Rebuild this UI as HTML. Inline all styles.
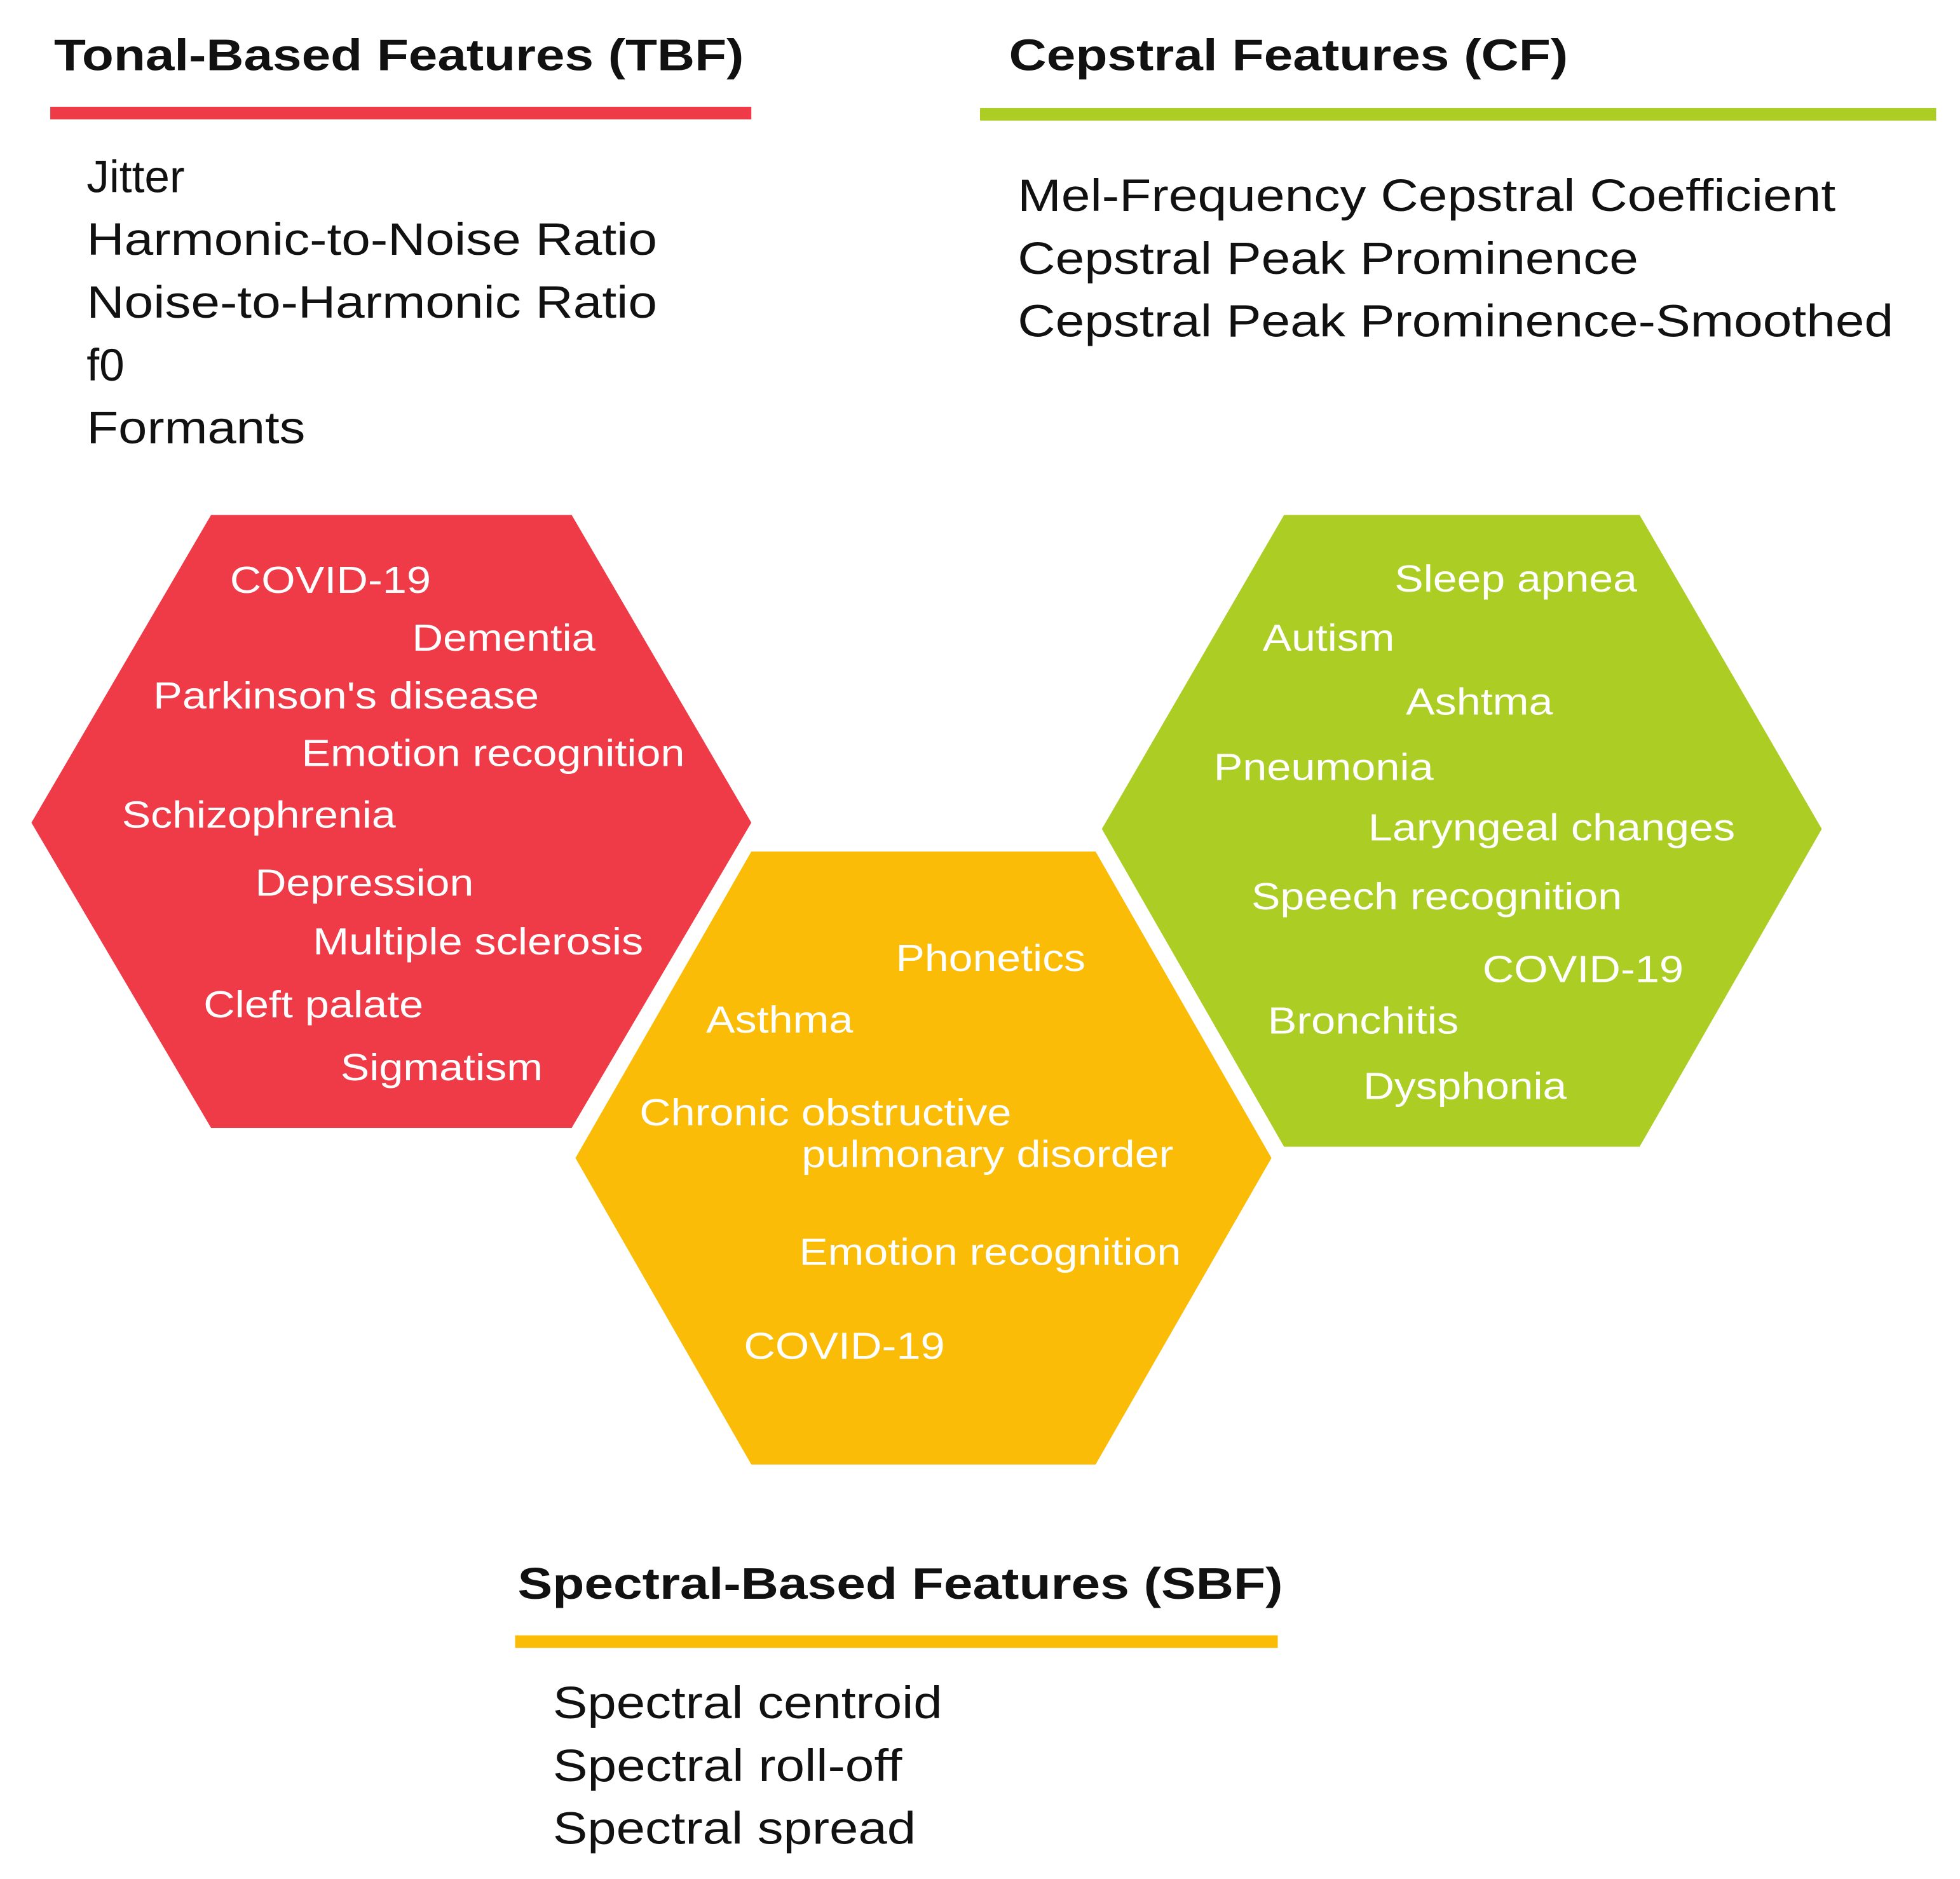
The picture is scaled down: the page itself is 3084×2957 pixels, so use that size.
<!DOCTYPE html>
<html><head><meta charset="utf-8">
<style>
html,body{margin:0;padding:0;background:#fff;}
svg{display:block;}
text{font-family:"Liberation Sans",Arial,sans-serif;}
.h{font-weight:bold;font-size:35px;fill:#111;}
.l{font-size:36px;fill:#111;}
.w{font-size:30px;fill:#fff;}
</style></head><body>
<svg width="3084" height="2957" viewBox="0 0 1560 1496" preserveAspectRatio="none" xmlns="http://www.w3.org/2000/svg">
<rect width="1560" height="1496" fill="#fff"/>
<!-- headings -->
<text class="h" x="43" y="56" textLength="549" lengthAdjust="spacingAndGlyphs">Tonal-Based Features (TBF)</text>
<rect x="40" y="85" width="558" height="10" fill="#EF3A47"/>
<text class="h" x="803" y="56" textLength="445" lengthAdjust="spacingAndGlyphs">Cepstral Features (CF)</text>
<rect x="780" y="86" width="761" height="10" fill="#ABCD24"/>
<text class="h" x="412" y="1273" textLength="609" lengthAdjust="spacingAndGlyphs">Spectral-Based Features (SBF)</text>
<rect x="410" y="1302" width="607" height="10" fill="#FBBC08"/>
<!-- lists -->
<text class="l" x="69" y="153">Jitter</text>
<text class="l" x="69" y="203" textLength="454" lengthAdjust="spacingAndGlyphs">Harmonic-to-Noise Ratio</text>
<text class="l" x="69" y="253" textLength="454" lengthAdjust="spacingAndGlyphs">Noise-to-Harmonic Ratio</text>
<text class="l" x="69" y="303">f0</text>
<text class="l" x="69" y="353" textLength="174" lengthAdjust="spacingAndGlyphs">Formants</text>
<text class="l" x="810" y="168" textLength="651" lengthAdjust="spacingAndGlyphs">Mel-Frequency Cepstral Coefficient</text>
<text class="l" x="810" y="218" textLength="494" lengthAdjust="spacingAndGlyphs">Cepstral Peak Prominence</text>
<text class="l" x="810" y="268" textLength="697" lengthAdjust="spacingAndGlyphs">Cepstral Peak Prominence-Smoothed</text>
<text class="l" x="440" y="1368" textLength="310" lengthAdjust="spacingAndGlyphs">Spectral centroid</text>
<text class="l" x="440" y="1418" textLength="278" lengthAdjust="spacingAndGlyphs">Spectral roll-off</text>
<text class="l" x="440" y="1468" textLength="289" lengthAdjust="spacingAndGlyphs">Spectral spread</text>
<!-- hexagons -->
<polygon points="168,410 455,410 598,655 455,898 168,898 25,655" fill="#EF3A47"/>
<polygon points="598,678 872,678 1012,922 872,1166 598,1166 458,922" fill="#FBBC08"/>
<polygon points="1022,410 1305,410 1450,660 1305,913 1022,913 877,660" fill="#ABCD24"/>
<!-- red texts -->
<g class="w">
<text class="w" x="183" y="472" textLength="160" lengthAdjust="spacingAndGlyphs">COVID-19</text>
<text class="w" x="328" y="518" textLength="146" lengthAdjust="spacingAndGlyphs">Dementia</text>
<text class="w" x="122" y="564" textLength="307" lengthAdjust="spacingAndGlyphs">Parkinson's disease</text>
<text class="w" x="240" y="610" textLength="305" lengthAdjust="spacingAndGlyphs">Emotion recognition</text>
<text class="w" x="97" y="659" textLength="218" lengthAdjust="spacingAndGlyphs">Schizophrenia</text>
<text class="w" x="203" y="713" textLength="174" lengthAdjust="spacingAndGlyphs">Depression</text>
<text class="w" x="249" y="760" textLength="263" lengthAdjust="spacingAndGlyphs">Multiple sclerosis</text>
<text class="w" x="162" y="810" textLength="175" lengthAdjust="spacingAndGlyphs">Cleft palate</text>
<text class="w" x="271" y="860" textLength="161" lengthAdjust="spacingAndGlyphs">Sigmatism</text>
<!-- yellow texts -->
<text class="w" x="713" y="773" textLength="151" lengthAdjust="spacingAndGlyphs">Phonetics</text>
<text class="w" x="562" y="822" textLength="117" lengthAdjust="spacingAndGlyphs">Asthma</text>
<text class="w" x="509" y="896" textLength="296" lengthAdjust="spacingAndGlyphs">Chronic obstructive</text>
<text class="w" x="638" y="929" textLength="296" lengthAdjust="spacingAndGlyphs">pulmonary disorder</text>
<text class="w" x="636" y="1007" textLength="304" lengthAdjust="spacingAndGlyphs">Emotion recognition</text>
<text class="w" x="592" y="1082" textLength="160" lengthAdjust="spacingAndGlyphs">COVID-19</text>
<!-- green texts -->
<text class="w" x="1110" y="471" textLength="193" lengthAdjust="spacingAndGlyphs">Sleep apnea</text>
<text class="w" x="1005" y="518" textLength="105" lengthAdjust="spacingAndGlyphs">Autism</text>
<text class="w" x="1119" y="569" textLength="117" lengthAdjust="spacingAndGlyphs">Ashtma</text>
<text class="w" x="966" y="621" textLength="175" lengthAdjust="spacingAndGlyphs">Pneumonia</text>
<text class="w" x="1089" y="669" textLength="292" lengthAdjust="spacingAndGlyphs">Laryngeal changes</text>
<text class="w" x="996" y="724" textLength="295" lengthAdjust="spacingAndGlyphs">Speech recognition</text>
<text class="w" x="1180" y="782" textLength="160" lengthAdjust="spacingAndGlyphs">COVID-19</text>
<text class="w" x="1009" y="823" textLength="152" lengthAdjust="spacingAndGlyphs">Bronchitis</text>
<text class="w" x="1085" y="875" textLength="162" lengthAdjust="spacingAndGlyphs">Dysphonia</text>
</g>
</svg>
</body></html>
